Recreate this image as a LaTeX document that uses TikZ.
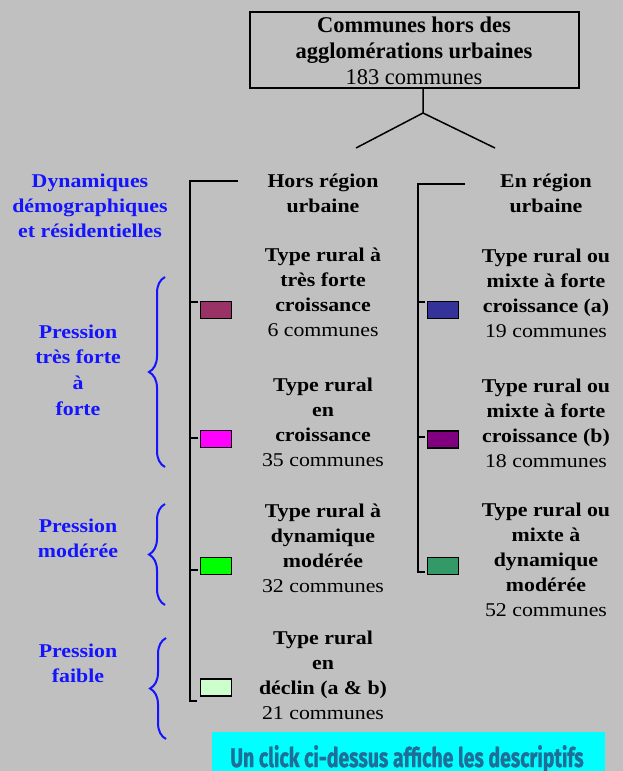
\documentclass[tikz,border=0pt]{standalone}
\usepackage{fontspec}
\usepackage{graphicx}
\setmainfont{Liberation Serif}
\newfontfamily\corps[FakeStretch=1.12]{Liberation Serif}
\newfontfamily\clicfont[FakeBold=1.2]{Fira Sans}
\usetikzlibrary{decorations.pathreplacing}

\definecolor{fond}{HTML}{C0C0C0}
\definecolor{bordeaux}{HTML}{993366}
\definecolor{rose}{HTML}{FF00FF}
\definecolor{vertvif}{HTML}{00FF00}
\definecolor{vertpale}{HTML}{CCFFCC}
\definecolor{bleunuit}{HTML}{333399}
\definecolor{prune}{HTML}{800080}
\definecolor{vertmer}{HTML}{339966}
\definecolor{cyanvif}{HTML}{00FFFF}
\definecolor{texteclic}{HTML}{1F6E98}
\definecolor{bleuleg}{HTML}{1414FF}

\begin{document}
\begin{tikzpicture}[x=1pt,y=-1pt,
  txt/.style={align=center,anchor=base,inner sep=0pt,font=\corps\fontsize{19.5}{25}\selectfont},
  leg/.style={align=center,anchor=base,inner sep=0pt,text=bleuleg,font=\corps\fontsize{19.5}{25}\selectfont\bfseries},
  trait/.style={line width=1.5pt},
  carre/.style={draw,line width=1.3pt,minimum width=31pt,minimum height=17pt,inner sep=0pt},
  accolade/.style={draw=bleuleg,line width=2pt,decorate,decoration={brace,amplitude=16pt}}]
  \useasboundingbox (0,0) rectangle (623,771);
  \fill[fond] (0,0) rectangle (623,771);

  % cadre du haut
  \node[draw,line width=2.6pt,minimum width=329pt,minimum height=76pt,inner sep=0pt] (cadre) at (414.5,50) {};
  \node[align=center,anchor=base,inner sep=0pt,font=\fontsize{22.5}{26}\selectfont] (titre) at (414,84)
    {\textbf{Communes hors des}\\ \textbf{agglomérations urbaines}\\ 183 communes};
  \coordinate (pied) at (423,89);
  \coordinate (fourche) at (423,113);
  \coordinate (brancheG) at (356,148);
  \coordinate (brancheD) at (495,148);
  \draw[trait] (pied) -- (fourche) -- (brancheG);
  \draw[trait] (fourche) -- (brancheD);

  % colonne de gauche
  \coordinate (hautG) at (238,181);
  \coordinate (coinG) at (190,181);
  \coordinate (basG) at (190,701);
  \draw[trait] (hautG) -- (coinG) -- (basG) -- ++(7,0);
  \draw[trait] (190,302) -- (198,302);
  \draw[trait] (190,438) -- (198,438);
  \draw[trait] (190,570) -- (198,570);

  \node[carre,fill=bordeaux] (g1) at (216,310) {};
  \node[carre,fill=rose] (g2) at (216,439) {};
  \node[carre,fill=vertvif] (g3) at (216,566) {};
  \node[carre,fill=vertpale] (g4) at (216,687.5) {};

  \node[txt] (horsreg) at (323,212) {\textbf{Hors région}\\ \textbf{urbaine}};
  \node[txt] (tg1) at (323,336) {\textbf{Type rural à}\\ \textbf{très forte}\\ \textbf{croissance}\\ 6 communes};
  \node[txt] (tg2) at (323,466) {\textbf{Type rural}\\ \textbf{en}\\ \textbf{croissance}\\ 35 communes};
  \node[txt] (tg3) at (323,592) {\textbf{Type rural à}\\ \textbf{dynamique}\\ \textbf{modérée}\\ 32 communes};
  \node[txt] (tg4) at (323,719) {\textbf{Type rural}\\ \textbf{en}\\ \textbf{déclin (a \& b)}\\ 21 communes};

  % colonne de droite
  \coordinate (hautD) at (465,184);
  \coordinate (coinD) at (418,184);
  \coordinate (basD) at (418,572);
  \draw[trait] (hautD) -- (coinD) -- (basD) -- ++(7,0);
  \draw[trait] (418,302) -- (425,302);
  \draw[trait] (418,437) -- (425,437);

  \node[carre,fill=bleunuit] (d1) at (443,310) {};
  \node[carre,fill=prune] (d2) at (443,439.5) {};
  \node[carre,fill=vertmer] (d3) at (443,566) {};

  \node[txt] (enreg) at (546,212) {\textbf{En région}\\ \textbf{urbaine}};
  \node[txt] (td1) at (546,337) {\textbf{Type rural ou}\\ \textbf{mixte à forte}\\ \textbf{croissance (a)}\\ 19 communes};
  \node[txt] (td2) at (546,467) {\textbf{Type rural ou}\\ \textbf{mixte à forte}\\ \textbf{croissance (b)}\\ 18 communes};
  \node[txt] (td3) at (546,616) {\textbf{Type rural ou}\\ \textbf{mixte à}\\ \textbf{dynamique}\\ \textbf{modérée}\\ 52 communes};

  % legende bleue
  \node[leg] (dyn) at (90,237) {Dynamiques\\ démographiques\\ et résidentielles};
  \node[leg] (p1) at (78,415) {Pression\\ très forte\\[1pt] à\\[1pt] forte};
  \node[leg] (p2) at (78,557) {Pression\\ modérée};
  \node[leg] (p3) at (78,682) {Pression\\ faible};
  \draw[accolade] (165,467) -- (165,277);
  \draw[accolade] (165,605) -- (165,504);
  \draw[accolade] (166,739) -- (166,638);

  % bandeau
  \node[fill=cyanvif,minimum width=393pt,minimum height=40pt,inner sep=0pt,anchor=north west] (bandeau) at (212,732) {};
  \node[anchor=base,inner sep=0pt,text=texteclic] (clic) at (407,767)
    {\scalebox{0.72}[1]{\clicfont\bfseries\fontsize{27}{27}\selectfont Un click ci-dessus affiche les descriptifs}};
\end{tikzpicture}
\end{document}
